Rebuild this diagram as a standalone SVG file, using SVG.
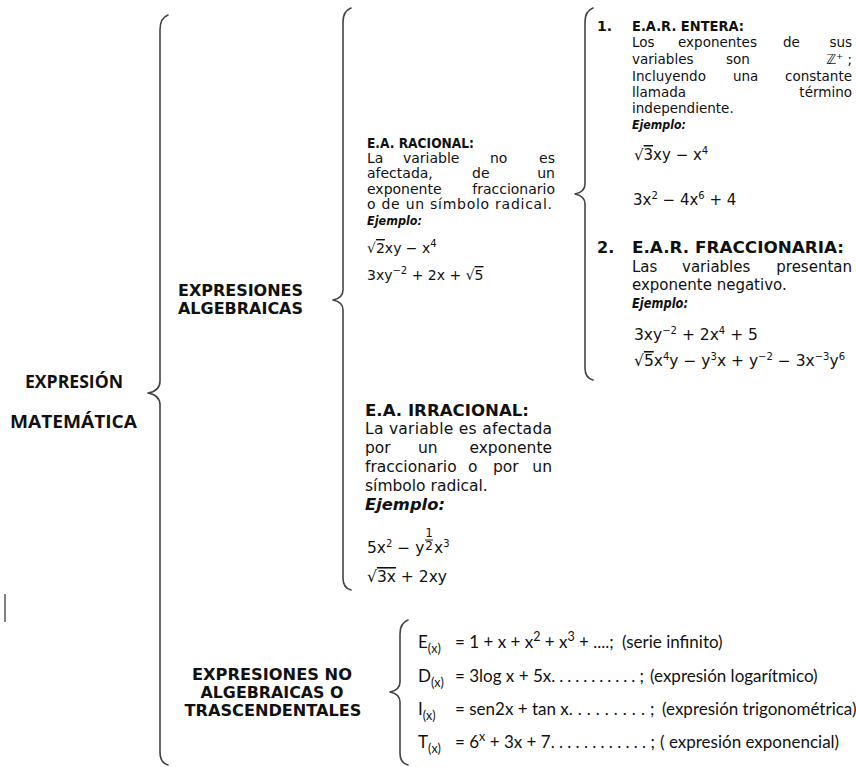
<svg xmlns="http://www.w3.org/2000/svg" width="856" height="767" viewBox="0 0 856 767">
<style>
text{fill:#111;font-family:"DejaVu Sans",Verdana,sans-serif}
.t{font-family:"Open Sans","DejaVu Sans",sans-serif;font-weight:bold;font-size:18px}
.h{font-weight:bold;font-size:14px}
.h16{font-weight:bold;font-size:16px}
.hc{font-weight:bold;font-size:16px;text-anchor:middle}
.e{font-weight:bold;font-style:italic}
.r{text-anchor:end}
.s13{font-size:13px}
.s135{font-size:13.5px}
.s14{font-size:14px}
.s15{font-size:15px}
.s155{font-size:15.5px}
.sup{font-size:10px}
.f{font-family:Lato,"Open Sans",sans-serif;font-size:17px}
.sub{font-size:12.5px}
.fs{font-size:12px}
.ov{text-decoration:overline}
.brace{fill:none;stroke:#444;stroke-width:1.6;stroke-linecap:round;stroke-linejoin:round}
</style>

<g id="connectors">
  <path class="brace" d="M168,15 Q160,18 160,30 L160,381 Q160,391 148,393 Q160,395 160,405 L160,752 Q160,763 168,765"/>
  <path class="brace" d="M351,8 Q343,11 343,22 L343,290 Q343,298 333,300 Q343,302 343,310 L343,578 Q343,588 351,590"/>
  <path class="brace" d="M593,8 Q585,11 585,22 L585,184 Q585,192 575,194 Q585,196 585,204 L585,368 Q585,378 593,380"/>
  <path class="brace" d="M408,620 Q400,623 400,634 L400,682 Q400,690 390,692 Q400,694 400,702 L400,753 Q400,763 408,765"/>
</g>

<g id="root">
  <text class="t" x="25" y="388" textLength="98" lengthAdjust="spacingAndGlyphs">EXPRESIÓN</text>
  <text class="t" x="10" y="428" textLength="127" lengthAdjust="spacingAndGlyphs">MATEMÁTICA</text>
  <line x1="5" y1="594" x2="5" y2="622" stroke="#555" stroke-width="1.5"/>
</g>

<g id="algebraicas">
  <text class="h16" x="178" y="296" textLength="125" lengthAdjust="spacingAndGlyphs">EXPRESIONES</text>
  <text class="h16" x="178" y="314" textLength="125" lengthAdjust="spacingAndGlyphs">ALGEBRAICAS</text>
</g>

<g id="racional">
  <text class="h" x="367" y="148" textLength="107" lengthAdjust="spacingAndGlyphs">E.A. RACIONAL:</text>
  <text class="s14" y="163"><tspan x="367">La</tspan><tspan x="403">variable</tspan><tspan x="490">no</tspan><tspan x="555" class="r">es</tspan></text>
  <text class="s14" y="178"><tspan x="367">afectada,</tspan><tspan x="472">de</tspan><tspan x="555" class="r">un</tspan></text>
  <text class="s14" y="194"><tspan x="367">exponente</tspan><tspan x="555" class="r">fraccionario</tspan></text>
  <text class="s14" x="367" y="209" textLength="185" lengthAdjust="spacing">o de un símbolo radical.</text>
  <text class="e s13" x="367" y="225" textLength="55" lengthAdjust="spacingAndGlyphs">Ejemplo:</text>
  <text class="s14" x="367" y="253">√<tspan class="ov">2</tspan>xy − x<tspan class="sup" dy="-6">4</tspan></text>
  <text class="s14" x="367" y="280">3xy<tspan class="sup" dy="-6">−2</tspan><tspan dy="6"> + 2x + √</tspan><tspan class="ov">5</tspan></text>
</g>

<g id="entera">
  <text class="h" x="597" y="31">1.</text>
  <text class="h" x="632" y="31" textLength="112" lengthAdjust="spacingAndGlyphs">E.A.R. ENTERA:</text>
  <text class="s135" y="47"><tspan x="632">Los</tspan><tspan x="678">exponentes</tspan><tspan x="783">de</tspan><tspan x="852" class="r">sus</tspan></text>
  <text class="s135" y="64"><tspan x="632">variables</tspan><tspan x="726">son</tspan><tspan x="852" class="r">ℤ⁺ ;</tspan></text>
  <text class="s135" y="81"><tspan x="632">Incluyendo</tspan><tspan x="733">una</tspan><tspan x="852" class="r">constante</tspan></text>
  <text class="s135" y="97"><tspan x="632">llamada</tspan><tspan x="852" class="r">término</tspan></text>
  <text class="s135" x="632" y="113">independiente.</text>
  <text class="e s13" x="632" y="129" textLength="54" lengthAdjust="spacingAndGlyphs">Ejemplo:</text>
  <text class="s15" x="634" y="160">√<tspan class="ov">3</tspan>xy − x<tspan class="sup" dy="-6">4</tspan></text>
  <text class="s15" x="633" y="205">3x<tspan class="sup" dy="-6">2</tspan><tspan dy="6"> − 4x</tspan><tspan class="sup" dy="-6">6</tspan><tspan dy="6"> + 4</tspan></text>
</g>

<g id="fraccionaria">
  <text class="h16" x="597" y="253">2.</text>
  <text class="h16" x="632" y="253" textLength="212" lengthAdjust="spacingAndGlyphs">E.A.R. FRACCIONARIA:</text>
  <text class="s15" y="272"><tspan x="632">Las</tspan><tspan x="682">variables</tspan><tspan x="852" class="r">presentan</tspan></text>
  <text class="s15" x="632" y="290">exponente negativo.</text>
  <text class="e s14" x="632" y="308" textLength="56" lengthAdjust="spacingAndGlyphs">Ejemplo:</text>
  <text class="s155" x="634" y="340">3xy<tspan class="sup" dy="-6">−2</tspan><tspan dy="6"> + 2x</tspan><tspan class="sup" dy="-6">4</tspan><tspan dy="6"> + 5</tspan></text>
  <text class="s155" x="634" y="366">√<tspan class="ov">5</tspan>x<tspan class="sup" dy="-6">4</tspan><tspan dy="6">y − y</tspan><tspan class="sup" dy="-6">3</tspan><tspan dy="6">x + y</tspan><tspan class="sup" dy="-6">−2</tspan><tspan dy="6"> − 3x</tspan><tspan class="sup" dy="-6">−3</tspan><tspan dy="6">y</tspan><tspan class="sup" dy="-6">6</tspan></text>
</g>

<g id="irracional">
  <text class="h16" x="365" y="416" textLength="164" lengthAdjust="spacingAndGlyphs">E.A. IRRACIONAL:</text>
  <text class="s155" x="365" y="434" textLength="187" lengthAdjust="spacing">La variable es afectada</text>
  <text class="s155" y="453"><tspan x="365">por</tspan><tspan x="418">un</tspan><tspan x="552" class="r">exponente</tspan></text>
  <text class="s155" y="472"><tspan x="365">fraccionario</tspan><tspan x="468">o</tspan><tspan x="493">por</tspan><tspan x="552" class="r">un</tspan></text>
  <text class="s155" x="365" y="491">símbolo radical.</text>
  <text class="e s155" x="365" y="510" textLength="80" lengthAdjust="spacingAndGlyphs">Ejemplo:</text>
  <text class="s155" x="367" y="553">5x<tspan class="sup" dy="-6">2</tspan><tspan dy="6"> − y</tspan></text>
  <text class="fs" x="429" y="537" text-anchor="middle">1</text>
  <line x1="425" y1="540" x2="433" y2="540" stroke="#111" stroke-width="0.9"/>
  <text class="fs" x="429" y="550" text-anchor="middle">2</text>
  <text class="s155" x="434" y="553">x<tspan class="sup" dy="-6">3</tspan></text>
  <text class="s155" x="367" y="582">√<tspan class="ov">3x</tspan> + 2xy</text>
</g>

<g id="no-algebraicas">
  <text class="hc" x="272" y="680" textLength="160" lengthAdjust="spacingAndGlyphs">EXPRESIONES NO</text>
  <text class="hc" x="272" y="698" textLength="143" lengthAdjust="spacingAndGlyphs">ALGEBRAICAS O</text>
  <text class="hc" x="273" y="716" textLength="177" lengthAdjust="spacingAndGlyphs">TRASCENDENTALES</text>
</g>

<g id="trascendentes">
  <text class="f" y="648"><tspan x="418">E</tspan><tspan class="sub" dy="5">(x)</tspan><tspan x="455" dy="-5">= 1 + x + x</tspan><tspan class="sub" dy="-7">2</tspan><tspan dy="7"> + x</tspan><tspan class="sub" dy="-7">3</tspan><tspan dy="7"> + ....;</tspan><tspan x="622">(serie infinito)</tspan></text>
  <text class="f" y="682"><tspan x="418">D</tspan><tspan class="sub" dy="5">(x)</tspan><tspan x="455" dy="-5">= 3log x + 5x</tspan><tspan style="letter-spacing:4px">...........</tspan><tspan>;</tspan><tspan x="650">(expresión logarítmico)</tspan></text>
  <text class="f" y="715"><tspan x="418">I</tspan><tspan class="sub" dy="5">(x)</tspan><tspan x="455" dy="-5">= sen2x + tan x</tspan><tspan style="letter-spacing:5px">.........</tspan><tspan>;</tspan><tspan x="662">(expresión trigonométrica)</tspan></text>
  <text class="f" y="748"><tspan x="418">T</tspan><tspan class="sub" dy="5">(x)</tspan><tspan x="455" dy="-5">= 6</tspan><tspan class="sub" dy="-7">x</tspan><tspan dy="7"> + 3x + 7</tspan><tspan style="letter-spacing:4.3px">............</tspan><tspan>;</tspan><tspan x="660">( expresión exponencial)</tspan></text>
</g>
</svg>
